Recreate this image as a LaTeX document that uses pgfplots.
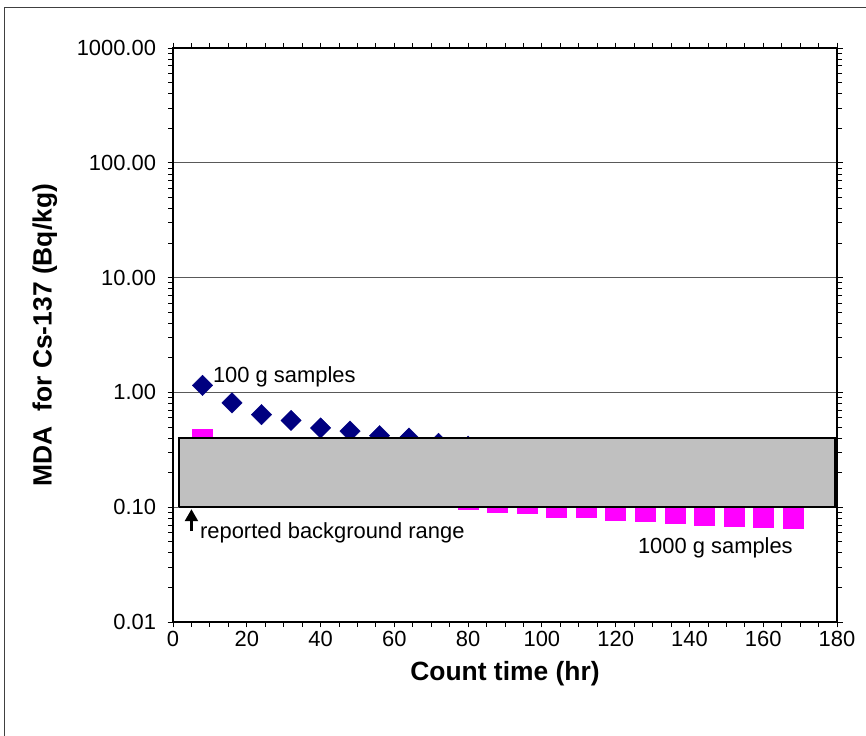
\documentclass[border=0pt]{standalone}
\usepackage{fontspec}
\setmainfont{Liberation Sans}
\usepackage{pgfplots}
\pgfplotsset{compat=1.18}
\usetikzlibrary{arrows.meta}
\definecolor{mdanavy}{HTML}{000080}
\definecolor{mdapink}{HTML}{FF00FF}
\definecolor{bggray}{HTML}{C0C0C0}

\begin{document}
\begin{tikzpicture}[x=1bp,y=1bp]
  \useasboundingbox (0,0) rectangle (866,736);
  % outer chart frame (only top and left show)
  \draw[line width=1bp, black!75] (4,0) -- (4,728) -- (866,728);
  \begin{axis}[
      at={(173bp,114bp)}, anchor=south west,
      scale only axis, width=664bp, height=574bp,
      xmin=0, xmax=180,
      ymode=log, ymin=0.01, ymax=1000,
      xtick={0,20,...,180}, minor x tick num=3,
      ytick={0.01,0.1,1,10,100,1000},
      yticklabels={0.01,0.10,1.00,10.00,100.00,1000.00},
      tick align=outside,
      major tick length=5.5bp, minor tick length=5bp,
      tick style={black, line width=0.8bp},
      axis line style={black, line width=1.8bp},
      ymajorgrids, grid style={black!65, line width=0.7bp},
      clip marker paths=true,
      /pgf/number format/assume math mode=true,
      tick label style={font=\fontsize{22}{26}\selectfont},
      yticklabel style={xshift=-8bp},
      every axis x label/.style={at={(axis description cs:0.5,-0.0906)}, anchor=center},
      every axis y label/.style={at={(axis description cs:-0.193,0.5)}, rotate=90, anchor=center},
      xlabel={\fontsize{26.5}{30}\selectfont\bfseries Count time (hr)},
      ylabel={\fontsize{26.5}{30}\selectfont\bfseries MDA\ \ for Cs-137 (Bq/kg)},
    ]
    % 100 g samples
    \addplot[only marks, mark=square*, mark size=7.2bp,
      mark options={fill=mdanavy, draw=mdanavy, rotate=45}] coordinates {
      (8,1.15) (16,0.81) (24,0.64) (32,0.57) (40,0.49) (48,0.46)
      (56,0.42) (64,0.40) (72,0.36) (80,0.34) (88,0.33) (96,0.31)
      (104,0.30) (112,0.29) (120,0.28) (128,0.27) (136,0.26)
      (144,0.255) (152,0.25) (160,0.24) (168,0.235)
    };
    % 1000 g samples
    \addplot[only marks, mark=square*, mark size=10bp,
      mark options={fill=mdapink, draw=mdapink}] coordinates {
      (8,0.39) (16,0.27) (24,0.22) (32,0.19) (40,0.17) (48,0.155)
      (56,0.145) (64,0.135) (72,0.125) (80,0.117) (88,0.110)
      (96,0.108) (104,0.101) (112,0.0995) (120,0.094) (128,0.092)
      (136,0.088) (144,0.086) (152,0.084) (160,0.082) (168,0.080)
    };
    % reported background range
    \addplot[draw=black, line width=2bp, fill=bggray, line join=miter] coordinates {
      (1.7,0.1) (179.4,0.1) (179.4,0.4) (1.7,0.4) (1.7,0.1)
    };
    \node[anchor=west, font=\fontsize{22}{26}\selectfont, inner sep=0pt]
      at (axis cs:10.8,1.38) {100 g samples};
    \node[anchor=west, font=\fontsize{22}{26}\selectfont, inner sep=0pt]
      at (axis cs:7.3,0.0604) {reported background range};
    \node[anchor=west, font=\fontsize{22}{26}\selectfont, inner sep=0pt]
      at (axis cs:126,0.0446) {1000 g samples};
    \draw[-{Triangle[length=12bp,width=13bp]}, line width=2.5bp]
      (axis cs:5.0,0.062) -- (axis cs:5.0,0.096);
  \end{axis}
\end{tikzpicture}
\end{document}
